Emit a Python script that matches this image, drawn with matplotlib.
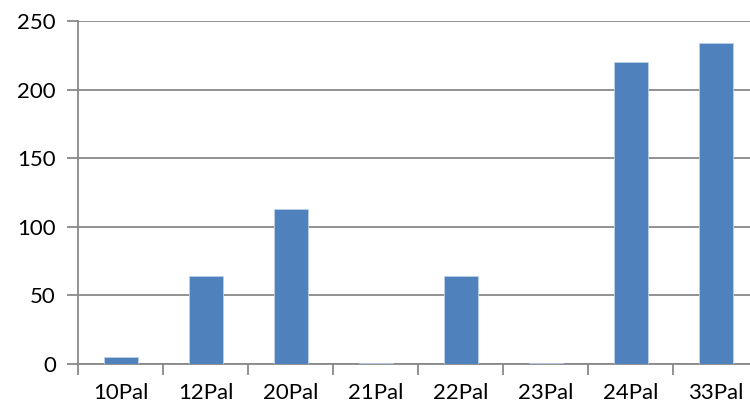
import matplotlib.pyplot as plt

categories = ["10Pal", "12Pal", "20Pal", "21Pal", "22Pal", "23Pal", "24Pal", "33Pal"]
counts = [5, 64, 113, 1, 64, 1, 220, 234]
y_ticks = [0, 50, 100, 150, 200, 250]

plt.rcParams["font.family"] = ["Lato", "DejaVu Sans"]

fig = plt.figure(figsize=(7.5, 4.12), dpi=100)
ax = fig.add_axes([78 / 750, 48 / 412, 680 / 750, 343 / 412])

grid_color = "#898989"
x = range(len(categories))
ax.bar(x, counts, width=0.4, color="#4F81BD", edgecolor="#BFD0E8", linewidth=0.6, zorder=5)

ax.set_xlim(-0.5, len(categories) - 0.5)
ax.set_ylim(0, 250)
ax.set_yticks(y_ticks)
ax.yaxis.grid(True, color=grid_color, linewidth=1.3, zorder=0)

# category ticks sit on the boundaries between categories
ax.set_xticks([i - 0.5 for i in x], minor=True)
ax.set_xticks(list(x))
ax.set_xticklabels(categories)
ax.tick_params(axis="x", which="major", length=0, pad=14, labelsize=16)
ax.tick_params(axis="x", which="minor", length=8, width=1.3, color=grid_color)
ax.tick_params(axis="y", length=8, width=1.3, color=grid_color, labelsize=16, pad=8)

for side in ["top", "right"]:
    ax.spines[side].set_visible(False)
for side in ["left", "bottom"]:
    ax.spines[side].set_color(grid_color)
    ax.spines[side].set_linewidth(1.3)
    ax.spines[side].set_zorder(4)

fig.savefig("out.png", dpi=100)
plt.close(fig)
